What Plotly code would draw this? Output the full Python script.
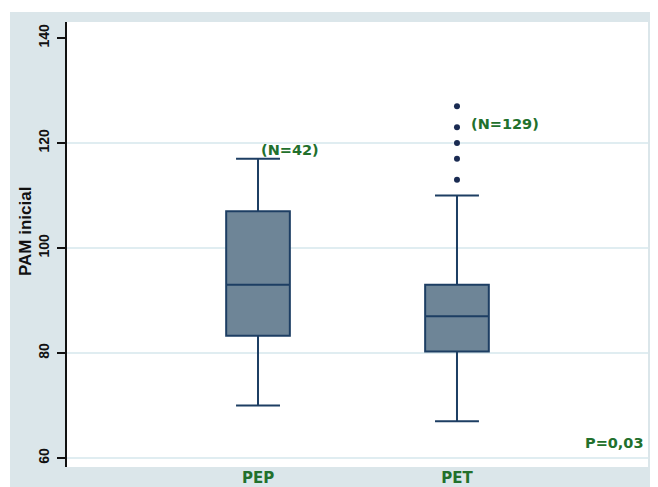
import plotly.graph_objects as go

# ---- data ----
groups = ["PEP", "PET"]
q1_vals = [83.3, 80.3]
median_vals = [93.0, 87.0]
q3_vals = [107.0, 93.0]
lower_whisker = [70.0, 67.0]
upper_whisker = [117.0, 110.0]
pet_outliers = [127, 123, 120, 117, 113]
n_counts = [42, 129]
p_value_text = "P=0,03"
y_ticks = [60, 80, 100, 120, 140]
grid_vals = [60, 80, 100, 120]
y_title = "PAM inicial"

# ---- styles ----
box_fill = "#6e8597"
box_line = "#1d3e63"
green = "#22702c"
outer_bg = "#dbe6ea"
grid_col = "#d6e7ec"
FONT = "Liberation Sans"
FONT_W = "DejaVu Sans"

fig = go.Figure()

fig.add_trace(go.Box(
    x=groups,
    q1=q1_vals, median=median_vals, q3=q3_vals,
    lowerfence=lower_whisker, upperfence=upper_whisker,
    fillcolor=box_fill,
    line=dict(color=box_line, width=2),
    width=0.32,
    whiskerwidth=0.69,
    boxpoints=False,
    showlegend=False,
    hoverinfo="skip",
))

fig.add_trace(go.Scatter(
    x=[groups[1]] * len(pet_outliers), y=pet_outliers,
    mode="markers",
    marker=dict(color="#1a2b52", size=6),
    showlegend=False,
    hoverinfo="skip",
))

# The page body has an 8px margin, so the figure is drawn 8px in from the
# window's top-left corner; the figure size and pixel positions account for it.
OFF = 8
W, H = 658 - OFF, 487 - OFF
L, R, T, B = 67 - OFF, 648 - OFF, 22 - OFF, 467 - OFF
pw, ph = R - L, B - T

def px_x(p):
    return (p - OFF - L) / pw

def px_y(p):
    return (B - (p - OFF)) / ph

shapes = [
    dict(type="rect", xref="paper", yref="paper",
         x0=px_x(10), x1=px_x(670), y0=px_y(12), y1=px_y(500),
         fillcolor=outer_bg, line=dict(width=0), layer="below"),
    dict(type="rect", xref="paper", yref="paper",
         x0=0, x1=1, y0=0, y1=1,
         fillcolor="white", line=dict(width=0), layer="below"),
]
for g in grid_vals:
    shapes.append(dict(type="line", xref="paper", yref="y",
                       x0=0, x1=1, y0=g, y1=g,
                       line=dict(color=grid_col, width=1.5), layer="below"))

ann_font = dict(family=FONT_W, size=14.5, color=green, weight="bold")
annotations = [
    dict(x=0.16, y=118.7, xref="x", yref="y", text=f"(N={n_counts[0]})",
         showarrow=False, font=ann_font),
    dict(x=1.24, y=123.6, xref="x", yref="y", text=f"(N={n_counts[1]})",
         showarrow=False, font=ann_font),
    dict(x=1.79, y=62.9, xref="x", yref="y", text=p_value_text,
         showarrow=False, font=ann_font),
    dict(x=px_x(25), y=px_y(232), xref="paper", yref="paper",
         xanchor="center", yanchor="middle",
         text=y_title, textangle=-90, showarrow=False,
         font=dict(family=FONT, size=17, color="#111111", weight="bold")),
]

fig.update_layout(
    width=W, height=H,
    margin=dict(l=L, r=W - R, t=T, b=H - B, pad=0),
    paper_bgcolor="white",
    plot_bgcolor="rgba(0,0,0,0)",
    shapes=shapes,
    annotations=annotations,
    xaxis=dict(
        type="category",
        range=[-0.96, 1.96],
        showgrid=False, zeroline=False, showline=False,
        ticks="",
        automargin=False,
        tickfont=dict(family=FONT_W, size=15, color=green, weight="bold"),
        ticklabelstandoff=0,
    ),
    yaxis=dict(
        range=[58.29, 143.05],
        tickvals=y_ticks,
        ticktext=[str(v) for v in y_ticks],
        tickangle=-90,
        ticks="outside", ticklen=8, tickwidth=1.5, tickcolor="#111111",
        showline=True, linecolor="#111111", linewidth=1.5,
        showgrid=False, zeroline=False,
        automargin=False,
        ticklabelstandoff=3,
        tickfont=dict(family=FONT, size=14, color="#111111", weight="bold"),
    ),
)

fig.write_html("out.html")
